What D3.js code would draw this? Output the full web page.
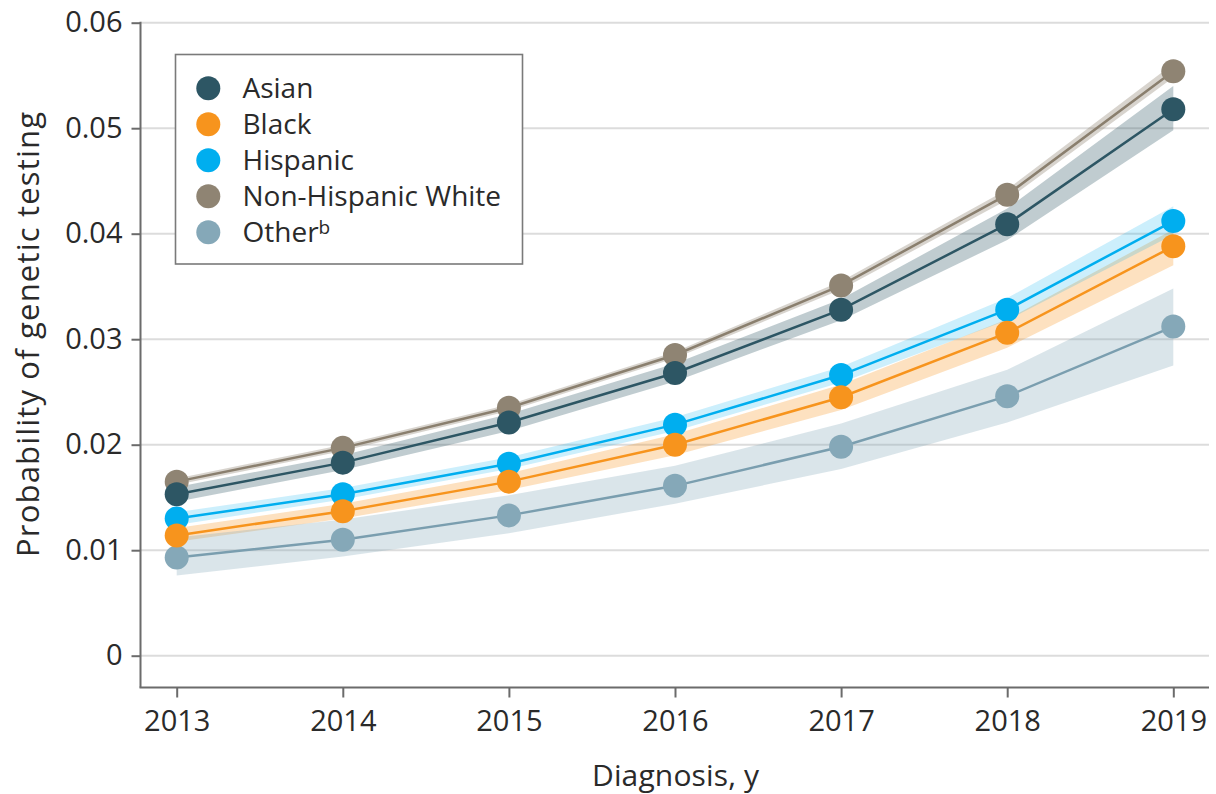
<!DOCTYPE html>
<html>
<head>
<meta charset="utf-8">
<script src="https://cdn.jsdelivr.net/npm/d3@7"></script>
<style>
  html, body { margin: 0; padding: 0; background: #fff; }
  svg { display: block; font-family: "Open Sans", "Noto Sans", sans-serif; }
</style>
</head>
<body>
<svg id="chart" width="1216" height="794"></svg>
<script>
// Diagnosis years
const years = [2013, 2014, 2015, 2016, 2017, 2018, 2019];

// Predicted probability of genetic testing by group, with 95% CI bands
const asian      = [0.0153, 0.0183, 0.0221, 0.0268, 0.0328, 0.0409, 0.0518];
const asianLo    = [0.0146, 0.0176, 0.0213, 0.0260, 0.0318, 0.0394, 0.0498];
const asianHi    = [0.0160, 0.0190, 0.0229, 0.0277, 0.0338, 0.0424, 0.0540];

const black      = [0.0114, 0.0137, 0.0165, 0.0200, 0.0245, 0.0306, 0.0388];
const blackLo    = [0.0108, 0.0130, 0.0157, 0.0190, 0.0233, 0.0292, 0.0370];
const blackHi    = [0.0121, 0.0144, 0.0173, 0.0210, 0.0257, 0.0319, 0.0404];

const hispanic   = [0.0130, 0.0153, 0.0182, 0.0219, 0.0266, 0.0328, 0.0412];
const hispanicLo = [0.0124, 0.0148, 0.0177, 0.0213, 0.0259, 0.0318, 0.0399];
const hispanicHi = [0.0136, 0.0159, 0.0188, 0.0226, 0.0274, 0.0339, 0.0426];

const nhWhite    = [0.0165, 0.0197, 0.0235, 0.0285, 0.0351, 0.0437, 0.0554];
const nhWhiteLo  = [0.0162, 0.0194, 0.0232, 0.0282, 0.0347, 0.0432, 0.0548];
const nhWhiteHi  = [0.0168, 0.0200, 0.0238, 0.0288, 0.0355, 0.0442, 0.0561];

const other      = [0.0093, 0.0110, 0.0133, 0.0161, 0.0198, 0.0246, 0.0312];
const otherLo    = [0.0076, 0.0094, 0.0116, 0.0144, 0.0177, 0.0221, 0.0275];
const otherHi    = [0.0112, 0.0129, 0.0152, 0.0180, 0.0220, 0.0271, 0.0348];

const yTicks = [0, 0.01, 0.02, 0.03, 0.04, 0.05, 0.06];
const yTickLabels = ["0", "0.01", "0.02", "0.03", "0.04", "0.05", "0.06"];

// Group definitions (legend order)
const groups = [
  { name: "Asian",              sup: "",  values: asian,    lo: asianLo,    hi: asianHi,    dot: "#2d5664", line: "#2d5664", band: "rgba(45,86,100,0.30)" },
  { name: "Black",              sup: "",  values: black,    lo: blackLo,    hi: blackHi,    dot: "#f7941d", line: "#f7941d", band: "rgba(247,148,29,0.28)" },
  { name: "Hispanic",           sup: "",  values: hispanic, lo: hispanicLo, hi: hispanicHi, dot: "#00aeef", line: "#00aeef", band: "rgba(0,174,239,0.20)" },
  { name: "Non-Hispanic White", sup: "",  values: nhWhite,  lo: nhWhiteLo,  hi: nhWhiteHi,  dot: "#8f8473", line: "#8a7f6e", band: "rgba(143,132,115,0.35)" },
  { name: "Other",              sup: "b", values: other,    lo: otherLo,    hi: otherHi,    dot: "#85a8b8", line: "#7a9eaf", band: "rgba(133,168,184,0.30)" }
];

const svg = d3.select("#chart");

const x = d3.scaleLinear().domain([2013, 2019]).range([176.7, 1173.3]);
const y = d3.scaleLinear().domain([0, 0.06]).range([655.7, 22.7]);

const axisLeftX = 140.5, axisBottomY = 687.5, plotRight = 1209;

// Horizontal gridlines
svg.append("g").selectAll("line")
  .data(yTicks)
  .join("line")
  .attr("x1", axisLeftX).attr("x2", plotRight)
  .attr("y1", d => y(d)).attr("y2", d => y(d))
  .attr("stroke", "#dcdcdc").attr("stroke-width", 2);

// Confidence bands
const area = d3.area()
  .x((d, i) => x(years[i]))
  .y0(d => y(d[0]))
  .y1(d => y(d[1]));

const bandLayer = svg.append("g");
groups.forEach(g => {
  const pts = g.lo.map((v, i) => [v, g.hi[i]]);
  bandLayer.append("path").datum(pts)
    .attr("d", area)
    .attr("fill", g.band);
});

// Lines
const line = d3.line().x((d, i) => x(years[i])).y(d => y(d));
const lineLayer = svg.append("g");
groups.forEach(g => {
  lineLayer.append("path").datum(g.values)
    .attr("d", line)
    .attr("fill", "none")
    .attr("stroke", g.line)
    .attr("stroke-width", 2.5);
});

// Points (drawn last group first so earlier legend entries sit on top)
const pointLayer = svg.append("g");
groups.slice().reverse().forEach(g => {
  pointLayer.selectAll(null)
    .data(g.values)
    .join("circle")
    .attr("cx", (d, i) => x(years[i]))
    .attr("cy", d => y(d))
    .attr("r", 12)
    .attr("fill", g.dot);
});

// Y axis
const yAxis = d3.axisLeft(y)
  .tickValues(yTicks)
  .tickFormat((d, i) => yTickLabels[i])
  .tickSize(9)
  .tickPadding(9);

const gy = svg.append("g")
  .attr("transform", `translate(${axisLeftX},0)`)
  .call(yAxis);
gy.select(".domain").remove();
gy.selectAll(".tick line").attr("stroke", "#6b6b6b").attr("stroke-width", 2);
gy.selectAll(".tick text")
  .attr("fill", "#2a2a2a")
  .style("font-size", "29px")
  .style("font-family", "'Open Sans', sans-serif");

svg.append("line")
  .attr("x1", axisLeftX).attr("x2", axisLeftX)
  .attr("y1", y(0.06) - 1).attr("y2", axisBottomY)
  .attr("stroke", "#6b6b6b").attr("stroke-width", 2);

// X axis
const xAxis = d3.axisBottom(x)
  .tickValues(years)
  .tickFormat(d3.format("d"))
  .tickSize(10)
  .tickPadding(13);

const gx = svg.append("g")
  .attr("transform", `translate(0,${axisBottomY})`)
  .call(xAxis);
gx.select(".domain").remove();
gx.selectAll(".tick line").attr("stroke", "#6b6b6b").attr("stroke-width", 2);
gx.selectAll(".tick text")
  .attr("fill", "#2a2a2a")
  .style("font-size", "29px")
  .style("font-family", "'Open Sans', sans-serif");

svg.append("line")
  .attr("x1", axisLeftX - 1).attr("x2", plotRight)
  .attr("y1", axisBottomY).attr("y2", axisBottomY)
  .attr("stroke", "#6b6b6b").attr("stroke-width", 2);

// Axis titles
svg.append("text")
  .attr("x", 675.5).attr("y", 786)
  .attr("text-anchor", "middle")
  .attr("fill", "#2a2a2a")
  .attr("textLength", 167)
  .attr("lengthAdjust", "spacing")
  .style("font-size", "30px")
  .text("Diagnosis, y");

svg.append("text")
  .attr("transform", "translate(39,334.5) rotate(-90)")
  .attr("text-anchor", "middle")
  .attr("fill", "#2a2a2a")
  .attr("textLength", 445)
  .attr("lengthAdjust", "spacing")
  .style("font-size", "31px")
  .text("Probability of genetic testing");

// Legend
const legend = svg.append("g");
legend.append("rect")
  .attr("x", 175.5).attr("y", 54.5)
  .attr("width", 347).attr("height", 209.5)
  .attr("fill", "#fff")
  .attr("stroke", "#7a7a7a")
  .attr("stroke-width", 1.6);

const legendY = d3.scalePoint()
  .domain(groups.map(g => g.name))
  .range([88.3, 232.3]);

const items = legend.selectAll("g.item")
  .data(groups)
  .join("g")
  .attr("class", "item")
  .attr("transform", d => `translate(0,${legendY(d.name)})`);

items.append("circle")
  .attr("cx", 208.3).attr("cy", 0).attr("r", 12)
  .attr("fill", d => d.dot);

const labels = items.append("text")
  .attr("x", 242.5).attr("y", 0).attr("dy", "0.36em")
  .attr("fill", "#2a2a2a")
  .style("font-size", "28px");
labels.append("tspan").text(d => d.name);
labels.filter(d => d.sup).append("tspan")
  .attr("dy", "-0.45em")
  .style("font-size", "19px")
  .text(d => d.sup);
</script>
</body>
</html>
